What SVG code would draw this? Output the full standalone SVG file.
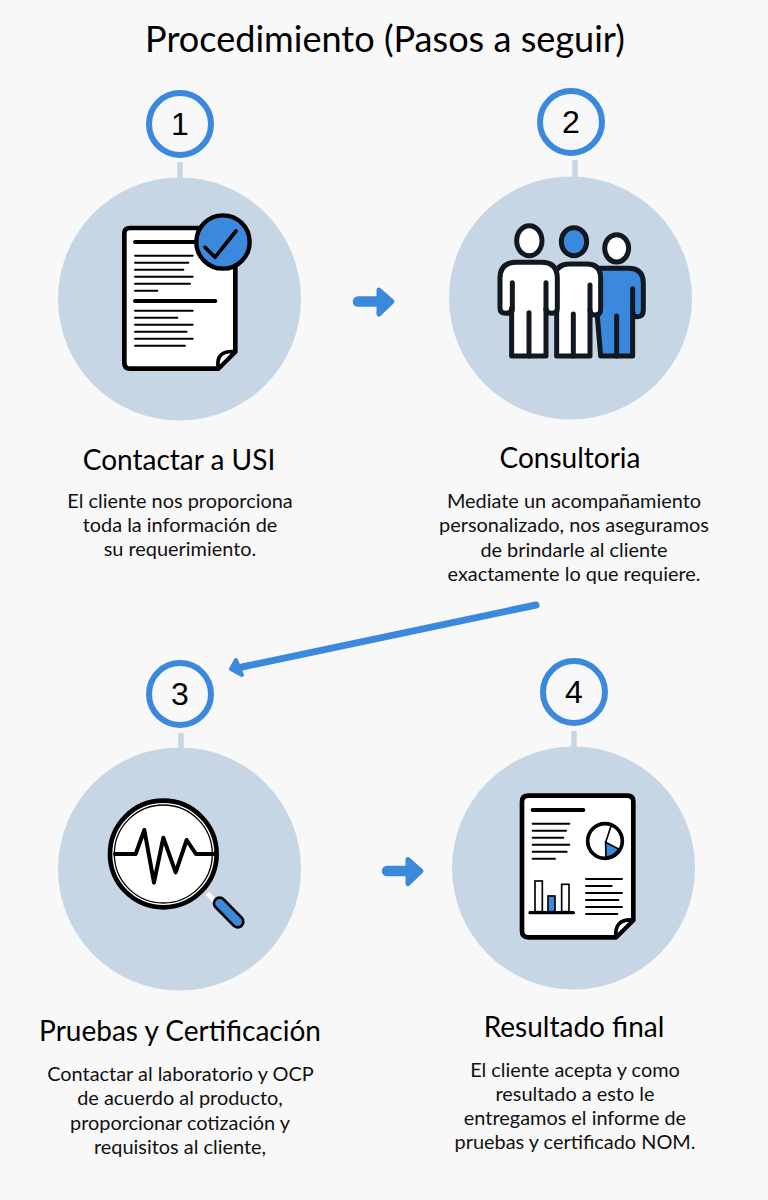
<svg xmlns="http://www.w3.org/2000/svg" width="768" height="1200" viewBox="0 0 768 1200">
<style>
text{font-family:Lato,"Open Sans","Liberation Sans",sans-serif;fill:#000;text-anchor:middle}
.t{font-size:28px}.b{font-size:19.9px;fill:#111}
.num{font-family:"Liberation Sans",Arial,sans-serif;font-size:32px}
.ring{fill:#f8f8f8;stroke:#3a89dc;stroke-width:6}
.disc{fill:#c7d6e4}.stem{stroke:#c7d6e4;stroke-width:5.5}
.k{fill:none;stroke:#000;stroke-linecap:round;stroke-linejoin:round}
.p{stroke:#111820;stroke-width:15;stroke-linejoin:round;stroke-linecap:round}
.w{fill:#fff}.bl{fill:#3a89dc}
</style>
<rect width="768" height="1200" fill="#f8f8f8"/>
<text x="385" y="52" font-size="36.1">Procedimiento (Pasos a seguir)</text>
<g id="connectors">
<g fill="#3a89dc" stroke="#3a89dc" stroke-linejoin="round" stroke-linecap="round">
<path d="M358 301.5H380" stroke-width="10.5" fill="none"/><path d="M379 290L392 301.5L379 314Z" stroke-width="5"/>
<path d="M387 871H409" stroke-width="10.5" fill="none"/><path d="M408 859.500L421 871L408 883.500Z" stroke-width="5"/>
<path d="M536 605L242 667" stroke-width="7" fill="none"/><path d="M231 669L236 660L242 675Z" stroke-width="4"/>
</g>
</g>
<g id="node1">
<line class="stem" x1="180" y1="162" x2="180" y2="180"/><circle class="disc" cx="179.5" cy="299" r="121.5"/>
<circle class="ring" cx="180" cy="124" r="31"/><text class="num" x="180" y="135">1</text>
<g transform="translate(100 200) scale(.3333)">
<path class="k" stroke-width="14" style="fill:#fff" d="M90 84H390Q406 84 406 100V455L355 506H90Q73 506 73 488V100Q73 84 90 84Z"/>
<path class="k" stroke-width="11" style="fill:#fff" d="M355 506Q345 450 406 455Z"/>
<path class="k" stroke-width="12" d="M105 126H290M105 303H346"/>
<path class="k" stroke-width="6" d="M105 167H278M105 188H265M105 209H250M105 230H278M105 251H270M105 272H172M105 332H278M105 353H232M105 374H278M105 395H260M105 416H278M105 437H255"/>
<circle cx="369" cy="126" r="80" fill="#3a89dc" stroke="#000" stroke-width="13"/>
<path class="k" stroke-width="11" d="M315 142L345 172L408 93"/>
</g>
<text class="t" x="179" y="470">Contactar a USI</text>
<text class="b" x="180" y="508">El cliente nos proporciona</text><text class="b" x="180" y="532">toda la información de</text><text class="b" x="180" y="556">su requerimiento.</text>
</g>
<g id="node2">
<line class="stem" x1="575" y1="160" x2="575" y2="178"/><circle class="disc" cx="570.5" cy="298" r="121.5"/>
<circle class="ring" cx="571" cy="122" r="31"/><text class="num" x="571" y="133">2</text>
<g transform="translate(480 210) scale(.3333)">
<path class="p bl" d="M340 175H445Q490 175 490 220V300Q490 320 472 320Q458 320 458 305V438H362Z"/>
<path class="p" fill="none" d="M458 236V305M410 318V438"/>
<ellipse class="p w" cx="410" cy="115" rx="36" ry="41"/>
<path class="p w" d="M225 205Q225 162 270 162H320Q362 162 362 205V298Q362 315 345 315Q330 315 330 300V438H230V300Z"/>
<path class="p" fill="none" d="M330 225V300M280 312V438"/>
<ellipse class="p bl" cx="282" cy="95" rx="38" ry="42"/>
<path class="p w" d="M60 205Q60 157 108 157H185Q232 157 232 205V295Q232 310 215 310Q198 310 198 295V438H95V295Q95 310 78 310Q60 310 60 295Z"/>
<path class="p" fill="none" d="M97 218V300M198 218V300M147 308V438"/>
<ellipse class="p w" cx="148" cy="92" rx="38" ry="45"/>
</g>
<text class="t" x="570" y="468">Consultoria</text>
<text class="b" x="574" y="508">Mediate un acompañamiento</text><text class="b" x="574" y="532">personalizado, nos aseguramos</text><text class="b" x="574" y="557">de brindarle al cliente</text><text class="b" x="574" y="581">exactamente lo que requiere.</text>
</g>
<g id="node3">
<line class="stem" x1="181" y1="733" x2="181" y2="750"/><circle class="disc" cx="179.5" cy="869" r="121.5"/>
<circle class="ring" cx="180" cy="694" r="31"/><text class="num" x="180" y="705">3</text>
<g transform="translate(95 785) scale(.3333)">
<path d="M337 325L362 350" stroke="#fff" stroke-width="14"/>
<path class="k" stroke-width="42" d="M374 355L428 410"/>
<path stroke="#3a89dc" stroke-width="26" stroke-linecap="round" d="M374 355L428 410"/>
<circle cx="205" cy="207" r="160" fill="#fff" stroke="#000" stroke-width="14"/>
<circle cx="205" cy="207" r="147" fill="#fff" stroke="#000" stroke-width="4"/>
<path class="k" stroke-width="12" d="M60 207H122L148 135L177 293L205 158L242 262L275 165L303 207H362"/>
</g>
<text class="t" x="180" y="1041">Pruebas y Certificación</text>
<text class="b" x="180.500" y="1081">Contactar al laboratorio y OCP</text><text class="b" x="180" y="1105">de acuerdo al producto,</text><text class="b" x="180" y="1130">proporcionar cotización y</text><text class="b" x="180" y="1154">requisitos al cliente,</text>
</g>
<g id="node4">
<line class="stem" x1="574" y1="731" x2="574" y2="748"/><circle class="disc" cx="573.5" cy="868" r="121.5"/>
<circle class="ring" cx="574" cy="692" r="31"/><text class="num" x="574" y="703">4</text>
<g transform="translate(510 785) scale(.3333)">
<path class="k" stroke-width="14" style="fill:#fff" d="M55 32H352Q370 32 370 50V405L318 457H55Q36 457 36 438V50Q36 32 55 32Z"/>
<path class="k" stroke-width="11" style="fill:#fff" d="M318 457Q312 400 370 405Z"/>
<path class="k" stroke-width="12" d="M68 75H220"/>
<path class="k" stroke-width="6" d="M68 116H178M68 137H168M68 158H160M68 179H178M68 200H170M68 221H135M228 282H336M228 303H305M228 324H336M228 345H325M228 366H336M228 387H322"/>
<circle cx="285" cy="168" r="52" fill="#fff" stroke="#000" stroke-width="11"/>
<path fill="#3a89dc" stroke="#000" stroke-width="5" d="M287 172L326 192Q312 215 288 216Z"/>
<path class="k" stroke-width="5" d="M287 172L305 118"/>
<rect x="75" y="288" width="22" height="92" fill="#fff" stroke="#000" stroke-width="5"/>
<rect x="114" y="333" width="21" height="47" fill="#3a89dc" stroke="#000" stroke-width="5"/>
<rect x="155" y="298" width="22" height="82" fill="#fff" stroke="#000" stroke-width="5"/>
<path class="k" stroke-width="10" d="M60 383H190"/>
</g>
<text class="t" x="574" y="1037">Resultado final</text>
<text class="b" x="575" y="1077">El cliente acepta y como</text><text class="b" x="575" y="1101">resultado a esto le</text><text class="b" x="575" y="1125">entregamos el informe de</text><text class="b" x="575" y="1149">pruebas y certificado NOM.</text>
</g>
</svg>
